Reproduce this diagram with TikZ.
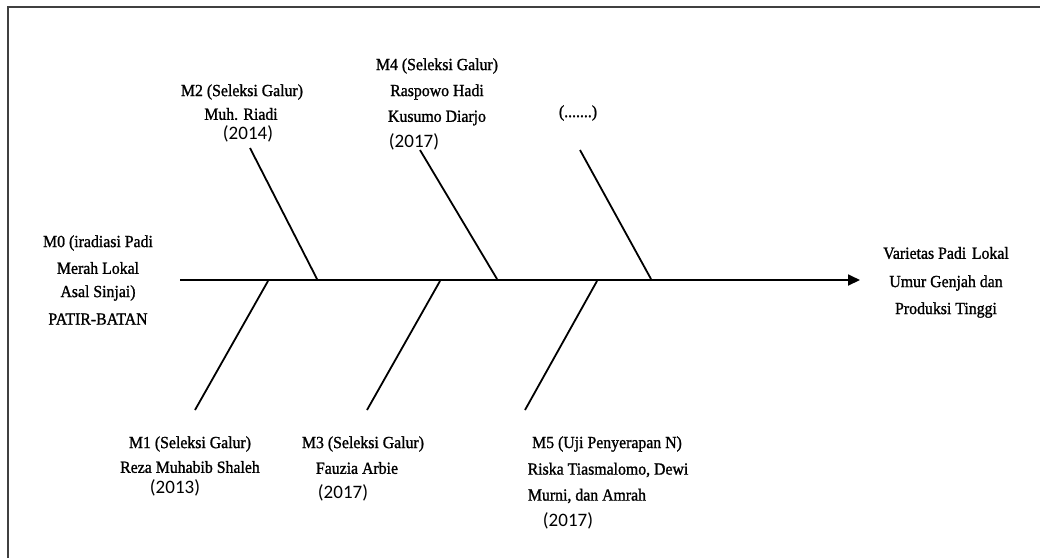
\documentclass[tikz,border=0pt]{standalone}
\usepackage{fontspec}
\setmainfont{Liberation Serif}[FakeStretch=0.93,FakeBold=1.2]
\newfontfamily\yrfont{Carlito}
\usetikzlibrary{arrows.meta}
\begin{document}
\begin{tikzpicture}[x=1pt,y=-1pt,
  lbl/.style={inner sep=0pt,anchor=center,font=\fontsize{17}{19}\selectfont},
  yr/.style={inner sep=0pt,anchor=center,font=\yrfont\fontsize{19}{21}\selectfont},
  bone/.style={line width=1.8pt,black},
  spine/.style={line width=1.8pt,black,-{Triangle[length=12pt,width=11pt]}}]
\useasboundingbox (0,0) rectangle (1040,558);
\draw[line width=2.5pt,black!75] (8,558) -- (8,7) -- (1040,7);
% spine
\coordinate (s0) at (180,280);
\coordinate (s1) at (860,280);
\draw[spine] (s0) -- (s1);
% upper bones
\coordinate (u1a) at (250,148); \coordinate (u1b) at (317,279);
\coordinate (u2a) at (420,150); \coordinate (u2b) at (497,279);
\coordinate (u3a) at (580,150); \coordinate (u3b) at (651,279);
\draw[bone] (u1a) -- (u1b);
\draw[bone] (u2a) -- (u2b);
\draw[bone] (u3a) -- (u3b);
% lower bones
\coordinate (l1a) at (195,410); \coordinate (l1b) at (268,281);
\coordinate (l2a) at (367,410); \coordinate (l2b) at (440,281);
\coordinate (l3a) at (525,410); \coordinate (l3b) at (597,281);
\draw[bone] (l1a) -- (l1b);
\draw[bone] (l2a) -- (l2b);
\draw[bone] (l3a) -- (l3b);
% M0
\node[lbl] (m0a) at (98,243) {M0 (iradiasi Padi};
\node[lbl] (m0b) at (98,268) {Merah Lokal};
\node[lbl] (m0c) at (98,293) {Asal Sinjai)};
\node[lbl] (m0d) at (98,319) {PATIR-BATAN};
% result
\node[lbl] (ra) at (946,253) {Varietas Padi\,\,Lokal};
\node[lbl] (rb) at (946,283) {Umur Genjah dan};
\node[lbl] (rc) at (946,310) {Produksi Tinggi};
% M2
\node[lbl] (m2a) at (242,92) {M2 (Seleksi Galur)};
\node[lbl] (m2b) at (241,114) {Muh. Riadi};
\node[yr] (m2c) at (248,134) {(2014)};
% M4
\node[lbl] (m4a) at (437,66) {M4 (Seleksi Galur)};
\node[lbl] (m4b) at (437,92) {Raspowo Hadi};
\node[lbl] (m4c) at (437,118) {Kusumo Diarjo};
\node[yr] (m4d) at (414,142) {(2017)};
% dots
\node[lbl] (dd) at (578,113) {(.......)};
% M1
\node[lbl] (m1a) at (190,444) {M1 (Seleksi Galur)};
\node[lbl] (m1b) at (190,467) {Reza Muhabib Shaleh};
\node[yr] (m1c) at (175,488) {(2013)};
% M3
\node[lbl] (m3a) at (363,444) {M3 (Seleksi Galur)};
\node[lbl] (m3b) at (357,468) {Fauzia Arbie};
\node[yr] (m3c) at (343,493) {(2017)};
% M5
\node[lbl] (m5a) at (607,444) {M5 (Uji Penyerapan N)};
\node[lbl] (m5b) at (608,470) {Riska Tiasmalomo, Dewi};
\node[lbl] (m5c) at (587,496) {Murni, dan Amrah};
\node[yr] (m5d) at (568,521) {(2017)};
\end{tikzpicture}
\end{document}
